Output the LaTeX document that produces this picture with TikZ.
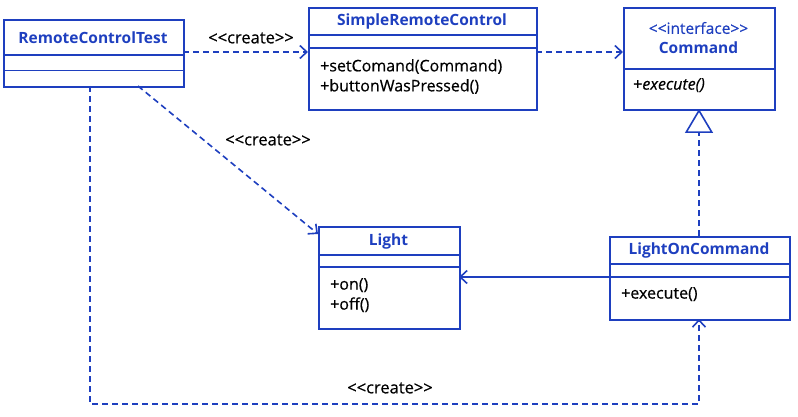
\documentclass[tikz,border=0pt]{standalone}
\usepackage{fontspec}
\setmainfont{Open Sans}
\newfontfamily\medfont[FakeBold=0.5]{Open Sans}
\usetikzlibrary{arrows.meta}
\definecolor{umlblue}{HTML}{1E3FBF}
\tikzset{
  box/.style={draw=umlblue, line width=1.7pt},
  sep/.style={draw=umlblue, line width=1.7pt},
  cname/.style={text=umlblue, font=\fontsize{15.5}{17}\selectfont\bfseries, inner sep=0pt},
  meth/.style={text=black, font=\medfont\fontsize{16}{20}\selectfont, inner sep=0pt, align=left, anchor=north west},
  lbl/.style={text=black, font=\medfont\fontsize{16.5}{18}\selectfont, inner sep=0pt},
  dep/.style={draw=umlblue, line width=1.6pt, dash pattern=on 6pt off 4pt, -{Straight Barb[length=7pt,width=13pt,line width=1.6pt]}},
  assoc/.style={draw=umlblue, line width=1.6pt, -{Straight Barb[length=7pt,width=13pt,line width=1.6pt]}},
  real/.style={draw=umlblue, line width=1.6pt, dash pattern=on 6pt off 4pt, -{Triangle[open,length=24pt,width=28pt,line width=1.6pt]}}
}
\begin{document}
\begin{tikzpicture}[x=1pt,y=-1pt]
\useasboundingbox (0,0) rectangle (798,417);
% RemoteControlTest
\node[box, minimum width=180pt, minimum height=67pt, anchor=north west, inner sep=0pt] (rct) at (3,19) {};
\draw[sep] (3,55) -- (183,55);
\draw[sep] (3,70.5) -- (183,70.5);
\node[cname] (rctn) at (93,38) {RemoteControlTest};
% SimpleRemoteControl
\node[box, minimum width=228pt, minimum height=102pt, anchor=north west, inner sep=0pt] (src) at (308,7) {};
\draw[sep] (308,35) -- (536,35);
\draw[sep] (308,48) -- (536,48);
\node[cname] (srcn) at (422,21) {SimpleRemoteControl};
\node[meth] (srcm) at (320,59) {+setComand(Command)\\+buttonWasPressed()};
% Command
\node[box, minimum width=151pt, minimum height=102pt, anchor=north west, inner sep=0pt] (cmd) at (623,7) {};
\draw[sep] (623,69) -- (774,69);
\node[text=umlblue, inner sep=0pt, align=center, font=\fontsize{15.5}{20}\selectfont] (cmdn) at (698.5,38) {{\medfont <{}<interface>{}>}\\{\bfseries Command}};
\node[meth] (cmdm) at (633,78) {+\textit{execute()}};
% Light
\node[box, minimum width=141pt, minimum height=102pt, anchor=north west, inner sep=0pt] (light) at (318,226) {};
\draw[sep] (318,255) -- (459,255);
\draw[sep] (318,267) -- (459,267);
\node[cname] (lightn) at (388.5,241) {Light};
\node[meth] (lightm) at (330,278) {+on()\\+off()};
% LightOnCommand
\node[box, minimum width=180pt, minimum height=83pt, anchor=north west, inner sep=0pt] (loc) at (609,236) {};
\draw[sep] (609,264) -- (789,264);
\draw[sep] (609,277) -- (789,277);
\node[cname] (locn) at (699,250) {LightOnCommand};
\node[meth] (locm) at (621,287) {+execute()};
% connectors
\coordinate (a1) at (183,52);
\coordinate (a2) at (308,52);
\draw[dep] (a1) -- (a2);
\node[lbl] (l1) at (251,38) {<{}<create>{}>};
\coordinate (b1) at (536,52);
\coordinate (b2) at (623,52);
\draw[dep] (b1) -- (b2);
\coordinate (c1) at (699,236);
\coordinate (c2) at (699,109);
\draw[real] (c1) -- (c2);
\coordinate (d1) at (138,86);
\coordinate (d2) at (318,234);
\draw[dep] (d1) -- (d2);
\node[lbl] (l2) at (268,140) {<{}<create>{}>};
\coordinate (e1) at (609,277);
\coordinate (e2) at (459,277);
\draw[assoc] (e1) -- (e2);
\coordinate (f1) at (90,86);
\coordinate (f2) at (699,319);
\draw[dep] (f1) -- (90,404) -- (699,404) -- (f2);
\node[lbl] (l3) at (390,388) {<{}<create>{}>};
\end{tikzpicture}
\end{document}
